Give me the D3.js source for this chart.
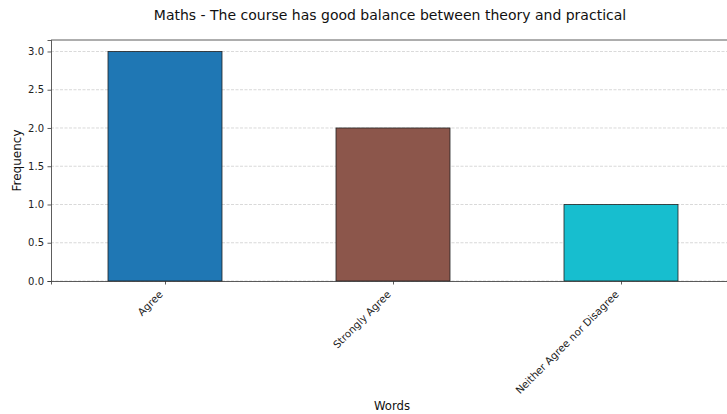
<!DOCTYPE html>
<html><head><meta charset="utf-8">
<script src="https://cdn.jsdelivr.net/npm/d3@7"></script>
<style>body{margin:0;background:#fff;} svg{display:block;font-family:"DejaVu Sans",sans-serif;}</style>
</head><body>
<svg id="c" width="727" height="414"></svg>
<script>
const categories = ["Agree", "Strongly Agree", "Neither Agree nor Disagree"];
const values = [3, 2, 1];
const colors = ["#1f77b4", "#8c564b", "#17becf"];
const yTicks = [0, 0.5, 1.0, 1.5, 2.0, 2.5, 3.0];
const title = "Maths - The course has good balance between theory and practical";

const svg = d3.select("#c");
const L = 51, R = 735, T = 40, B = 281;
const x = d3.scaleLinear().domain([-0.5, categories.length - 0.5]).range([L, R]);
const y = d3.scaleLinear().domain([0, 3.15]).range([B, T]);

// grid
svg.append("g").selectAll("line").data(yTicks).join("line")
  .attr("x1", L).attr("x2", R).attr("y1", d => y(d)).attr("y2", d => y(d))
  .attr("stroke", "#b0b0b0").attr("stroke-width", 0.8).attr("stroke-dasharray", "3,1.5").attr("opacity", 0.6);

// bars
svg.append("g").selectAll("rect").data(values).join("rect")
  .attr("x", (d, i) => x(i - 0.25)).attr("width", (d, i) => x(i + 0.25) - x(i - 0.25))
  .attr("y", d => y(d)).attr("height", d => y(0) - y(d))
  .attr("fill", (d, i) => colors[i]).attr("stroke", "#222").attr("stroke-width", 0.8);

// axes
const yAxis = d3.axisLeft(y).tickValues(yTicks).tickFormat(d3.format(".1f")).tickSize(3.5).tickPadding(3.5);
const gy = svg.append("g").attr("transform", `translate(${L},0)`).call(yAxis);
gy.select(".domain").attr("stroke", "#333").attr("stroke-width", 0.8);
gy.selectAll(".tick line").attr("stroke", "#333").attr("stroke-width", 0.8);
gy.selectAll("text").attr("font-size", 10).attr("fill", "#222").attr("font-family", "DejaVu Sans");

const xAxis = d3.axisBottom(x).tickValues(categories.map((c, i) => i)).tickFormat(i => categories[i]).tickSize(3.5).tickPadding(2);
const gx = svg.append("g").attr("transform", `translate(0,${B})`).call(xAxis);
gx.select(".domain").attr("stroke", "#333").attr("stroke-width", 0.8);
gx.selectAll(".tick line").attr("stroke", "#333").attr("stroke-width", 0.8);
gx.selectAll("text").attr("font-size", 10.3).attr("fill", "#222").attr("font-family", "DejaVu Sans")
  .attr("text-anchor", "end").attr("y", 0).attr("dy", 0)
  .attr("transform", "translate(-2,14) rotate(-45)");

// top spine
svg.append("line").attr("x1", L).attr("x2", R).attr("y1", T).attr("y2", T).attr("stroke", "#333").attr("stroke-width", 0.8);

// title and labels
svg.append("text").attr("x", 390).attr("y", 20).attr("text-anchor", "middle")
  .attr("font-size", 14).attr("fill", "#111").text(title);
svg.append("text").attr("x", (L + R) / 2 - 1).attr("y", 410).attr("text-anchor", "middle")
  .attr("font-size", 11.7).attr("fill", "#111").text("Words");
svg.append("text").attr("transform", `translate(21,${(T + B) / 2}) rotate(-90)`).attr("text-anchor", "middle")
  .attr("font-size", 12).attr("fill", "#111").text("Frequency");
</script>
</body></html>
